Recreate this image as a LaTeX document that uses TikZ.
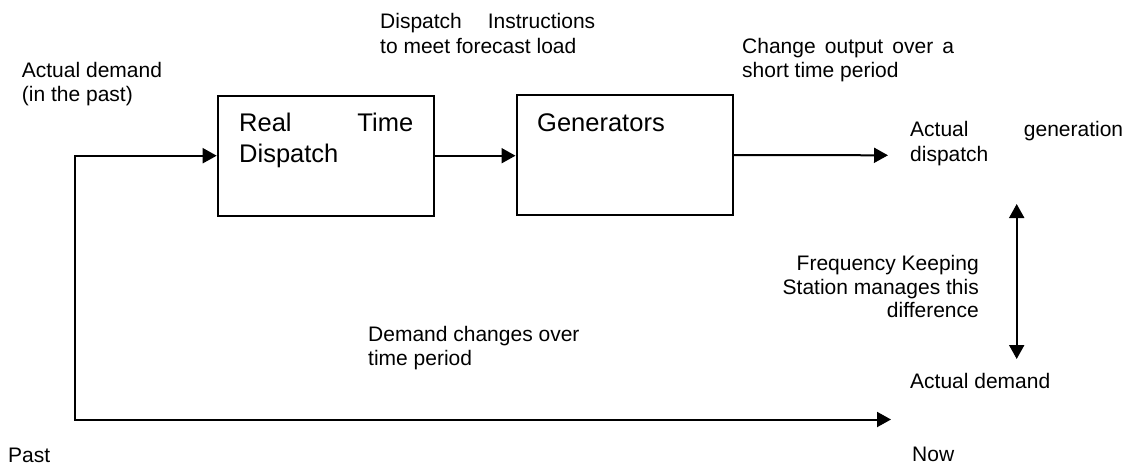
\documentclass[tikz,border=0pt]{standalone}
\usepackage{fontspec}
\setmainfont{Liberation Sans}
\usetikzlibrary{arrows.meta}

% stacked lines whose first baseline is the box baseline
\newcommand\leftlines[2]{\vtop{\baselineskip=#1\relax\halign{##\hfil\cr#2\crcr}}}
\newcommand\rightlines[2]{\vtop{\baselineskip=#1\relax\halign{\hfil##\cr#2\crcr}}}

\begin{document}
\begin{tikzpicture}[x=1pt,y=-1pt,
  box/.style={draw, line width=2pt, minimum width=216pt, minimum height=120pt, inner sep=0pt},
  lbl/.style={inner sep=0pt, anchor=base west, font=\fontsize{21}{24.4}\selectfont},
  rlbl/.style={inner sep=0pt, anchor=base east, font=\fontsize{21}{24.4}\selectfont},
  boxlbl/.style={inner sep=0pt, anchor=base west, font=\fontsize{25.5}{31}\selectfont},
  tip/.tip={Triangle[length=14pt,width=15pt]},
  flow/.style={line width=2pt, -tip},
  both/.style={line width=2pt, tip-tip}]
\useasboundingbox (0,0) rectangle (1132,466);

% blocks
\node[box] (rtd) at (325.7,155.7) {};
\node[box] (gen) at (624.5,155) {};
\node[boxlbl] (rtdtxt) at (239,131) {\leftlines{31pt}{\makebox[174pt][s]{Real Time}\cr Dispatch}};
\node[boxlbl] (gentxt) at (537,131) {Generators};

% free ends of the connectors
\coordinate (corner) at (74.5,419.5);
\coordinate (now) at (891,419.5);
\coordinate (genout) at (888,155.3);
\coordinate (difftop) at (1016.7,204);
\coordinate (diffbot) at (1016.7,359);

% connectors
\draw[line width=2pt, tip-tip] (rtd.west) -| (corner) -- (now);
\draw[flow] (rtd.east) -- (rtd.east -| gen.west);
\draw[flow] (gen.east) -- (genout);
\draw[both] (difftop) -- (diffbot);

% annotations
\node[lbl] (pastdemand) at (21.7,77) {\leftlines{24.4pt}{Actual demand\cr (in the past)}};
\node[lbl] (instr) at (380,28.5) {\leftlines{24.6pt}{\makebox[215pt][s]{Dispatch Instructions}\cr to meet forecast load}};
\node[lbl] (change) at (742,53.3) {\leftlines{24.4pt}{\makebox[212pt][s]{Change output over a}\cr short time period}};
\node[lbl] (actgen) at (910,136) {\leftlines{25pt}{\makebox[213pt][s]{Actual generation}\cr dispatch}};
\node[rlbl] (fks) at (979,270.7) {\rightlines{23.4pt}{Frequency Keeping\cr Station manages this\cr difference}};
\node[lbl] (demchange) at (368,341.7) {\leftlines{24pt}{Demand changes over\cr time period}};
\node[lbl] (actdem) at (910,388) {Actual demand};
\node[lbl] (past) at (8,462) {Past};
\node[lbl] (nowlbl) at (912,461) {Now};
\end{tikzpicture}
\end{document}
